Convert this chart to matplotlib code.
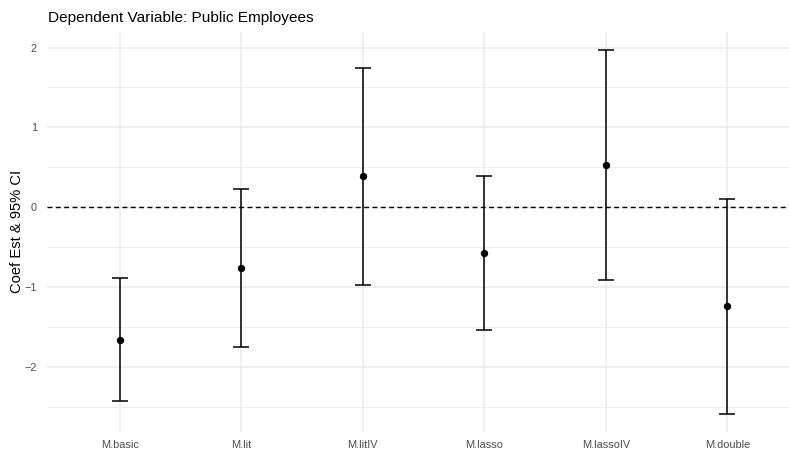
import matplotlib
matplotlib.use("Agg")
from matplotlib import pyplot as plt
from matplotlib.ticker import MultipleLocator
import numpy as np

plt.rcParams['font.family'] = ['Liberation Sans', 'DejaVu Sans']

models = ["M.basic", "M.lit", "M.litIV", "M.lasso", "M.lassoIV", "M.double"]
coef = [-1.654, -0.762, 0.388, -0.575, 0.525, -1.237]
ci_low = [-2.416, -1.745, -0.975, -1.537, -0.904, -2.579]
ci_high = [-0.887, 0.225, 1.742, 0.388, 1.967, 0.100]

x = np.arange(len(models))
coef = np.array(coef)
err = [coef - np.array(ci_low), np.array(ci_high) - coef]

fig = plt.figure(figsize=(7.89, 4.53), dpi=100)
ax = fig.add_axes([0.0592, 0.047, 0.9408, 0.8824])

grid_col = "#EBEBEB"
# zero reference line
ax.axhline(0, color="black", lw=1.0, ls=(0, (3.5, 2.5)), zorder=2)
ax.errorbar(x, coef, yerr=err, fmt="o", color="black", ms=4.3,
            elinewidth=1.1, capsize=6, capthick=1.1, zorder=3)

lo, hi = min(ci_low), max(ci_high)
pad = 0.05 * (hi - lo)
ax.set_ylim(lo - pad, hi + pad)
ax.set_xlim(-0.6, 5.506)

ax.yaxis.set_major_locator(MultipleLocator(1))
ax.yaxis.set_minor_locator(MultipleLocator(0.5))
ax.set_xticks(x)
ax.set_xticklabels(models)
ax.grid(True, which="major", color=grid_col, lw=1.1, zorder=0)
ax.grid(True, which="minor", axis="y", color=grid_col, lw=0.6, zorder=0)
ax.set_axisbelow(True)
for s in ax.spines.values():
    s.set_visible(False)
ax.tick_params(which="both", length=0, labelsize=7.9, labelcolor="#4D4D4D")
ax.tick_params(axis="y", pad=7)
ax.tick_params(axis="x", pad=6)

ax.set_ylabel("Coef Est & 95% CI", fontsize=10.6)
ax.yaxis.set_label_coords(-0.031, 0.5)
fig.text(0.0608, 0.952, "Dependent Variable: Public Employees", fontsize=11.1,
         ha="left", va="baseline")

fig.savefig("out.png", dpi=100)
